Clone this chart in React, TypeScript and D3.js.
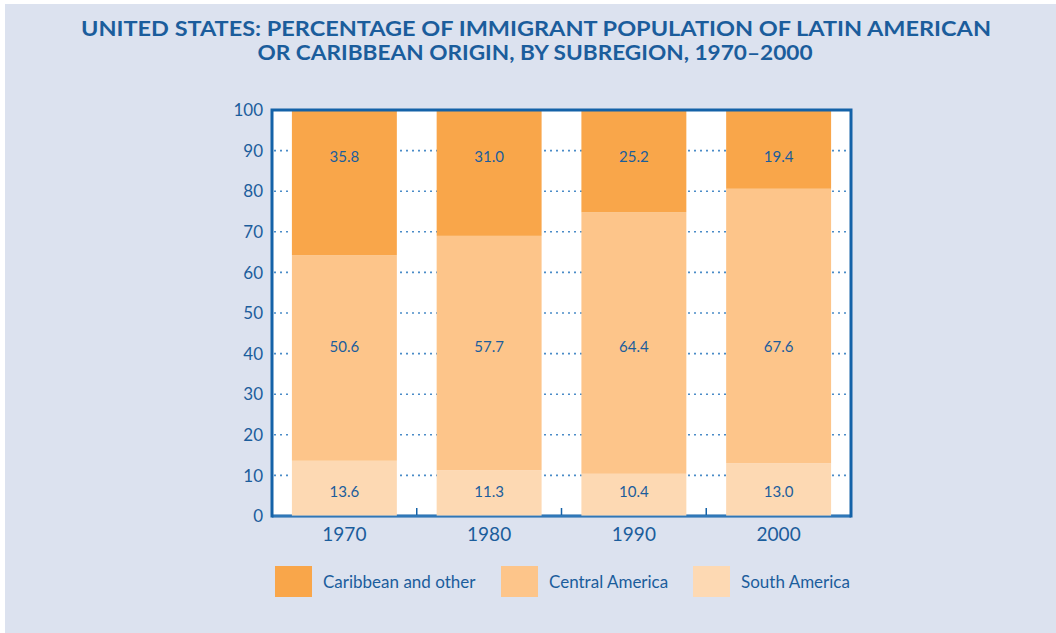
import React from "react";
import * as d3 from "d3";

const years = ["1970", "1980", "1990", "2000"];
const southAmerica = [13.6, 11.3, 10.4, 13.0];
const centralAmerica = [50.6, 57.7, 64.4, 67.6];
const caribbean = [35.8, 31.0, 25.2, 19.4];
const seriesNames = ["South America", "Central America", "Caribbean and other"];
const legendOrder = ["Caribbean and other", "Central America", "South America"];
const yTicks = [0, 10, 20, 30, 40, 50, 60, 70, 80, 90, 100];

const colors: Record<string, string> = {
  "Caribbean and other": "#f9a64a",
  "Central America": "#fdc58a",
  "South America": "#fdd9b3",
};
const labelAt: Record<string, number> = {
  "Caribbean and other": 88.4,
  "Central America": 41.6,
  "South America": 5.9,
};

const W = 1056, H = 633;
const left = 272, right = 851, top = 110, bottom = 516;
const textColor = "#1b5d9c";
const frameColor = "#1462a8";
const font = "'Lato', 'Open Sans', sans-serif";

export default function App() {
  const x = d3.scaleBand<string>().domain(years).range([left, right]).paddingInner(0.275).paddingOuter(0.1375);
  const y = d3.scaleLinear().domain([0, 100]).range([bottom, top]);
  const rows = years.map((yr, i) => ({
    year: yr,
    "South America": southAmerica[i],
    "Central America": centralAmerica[i],
    "Caribbean and other": caribbean[i],
  }));
  const stacked = d3.stack<any>().keys(seriesNames)(rows);
  const step = x.step();
  const boundaries = years.slice(1).map((yr) => (x(yr) as number) - (step - x.bandwidth()) / 2);

  return (
    <svg width={W} height={H} style={{ position: "fixed", left: 0, top: 0 }} fontFamily={font}>
      <rect x={5} y={4} width={W - 5} height={H - 4} fill="#dce2ef" />
      <text x={536} y={36} textAnchor="middle" fontWeight="bold" fontSize={20} fill={textColor}
        textLength={910} lengthAdjust="spacingAndGlyphs">
        UNITED STATES: PERCENTAGE OF IMMIGRANT POPULATION OF LATIN AMERICAN
      </text>
      <text x={535} y={60} textAnchor="middle" fontWeight="bold" fontSize={20} fill={textColor}
        textLength={555} lengthAdjust="spacingAndGlyphs">
        OR CARIBBEAN ORIGIN, BY SUBREGION, 1970–2000
      </text>
      <rect x={left} y={top} width={right - left} height={bottom - top} fill="#ffffff" />
      {yTicks.filter((t) => t > 0 && t < 100).map((t) => (
        <line key={t} x1={left + 2} x2={right - 2} y1={y(t)} y2={y(t)} stroke="#4a8cc8" strokeWidth={1.6}
          strokeDasharray="2 4" />
      ))}
      <line x1={left} x2={right} y1={bottom} y2={bottom} stroke={frameColor} strokeWidth={3} />
      {boundaries.map((b, i) => (
        <line key={i} x1={b} x2={b} y1={bottom} y2={bottom - 8} stroke={frameColor} strokeWidth={1.5} />
      ))}
      {stacked.map((s) => (
        <g key={s.key}>
          {s.map((d, i) => (
            <rect key={i} x={x(years[i])} y={y(d[1])} width={x.bandwidth()} height={y(d[0]) - y(d[1])}
              fill={colors[s.key]} />
          ))}
        </g>
      ))}
      <line x1={left} x2={right} y1={bottom} y2={bottom} stroke="#4a8cc8" strokeWidth={1} />
      <path d={`M${left},${bottom + 1.5}V${top}H${right}V${bottom + 1.5}`} fill="none" stroke={frameColor} strokeWidth={3} />
      {stacked.map((s) => (
        <g key={s.key + "l"}>
          {s.map((d, i) => (
            <text key={i} x={(x(years[i]) as number) + x.bandwidth() / 2} y={y(labelAt[s.key])} dy="0.35em"
              textAnchor="middle" fontSize={15} fill={textColor}>
              {(d[1] - d[0]).toFixed(1)}
            </text>
          ))}
        </g>
      ))}
      {yTicks.map((t) => (
        <text key={t} x={263} y={y(t)} dy="0.36em" textAnchor="end" fontSize={17} fill={textColor}>{t}</text>
      ))}
      {years.map((yr) => (
        <text key={yr} x={(x(yr) as number) + x.bandwidth() / 2} y={541} textAnchor="middle" fontSize={19} fill={textColor}>{yr}</text>
      ))}
      {legendOrder.map((k, i) => {
        const xs = [275, 501, 693][i];
        return (
          <g key={k}>
            <rect x={xs} y={566} width={37} height={31} fill={colors[k]} />
            <text x={xs + 48} y={588} fontSize={17} fill={textColor}>{k}</text>
          </g>
        );
      })}
    </svg>
  );
}
